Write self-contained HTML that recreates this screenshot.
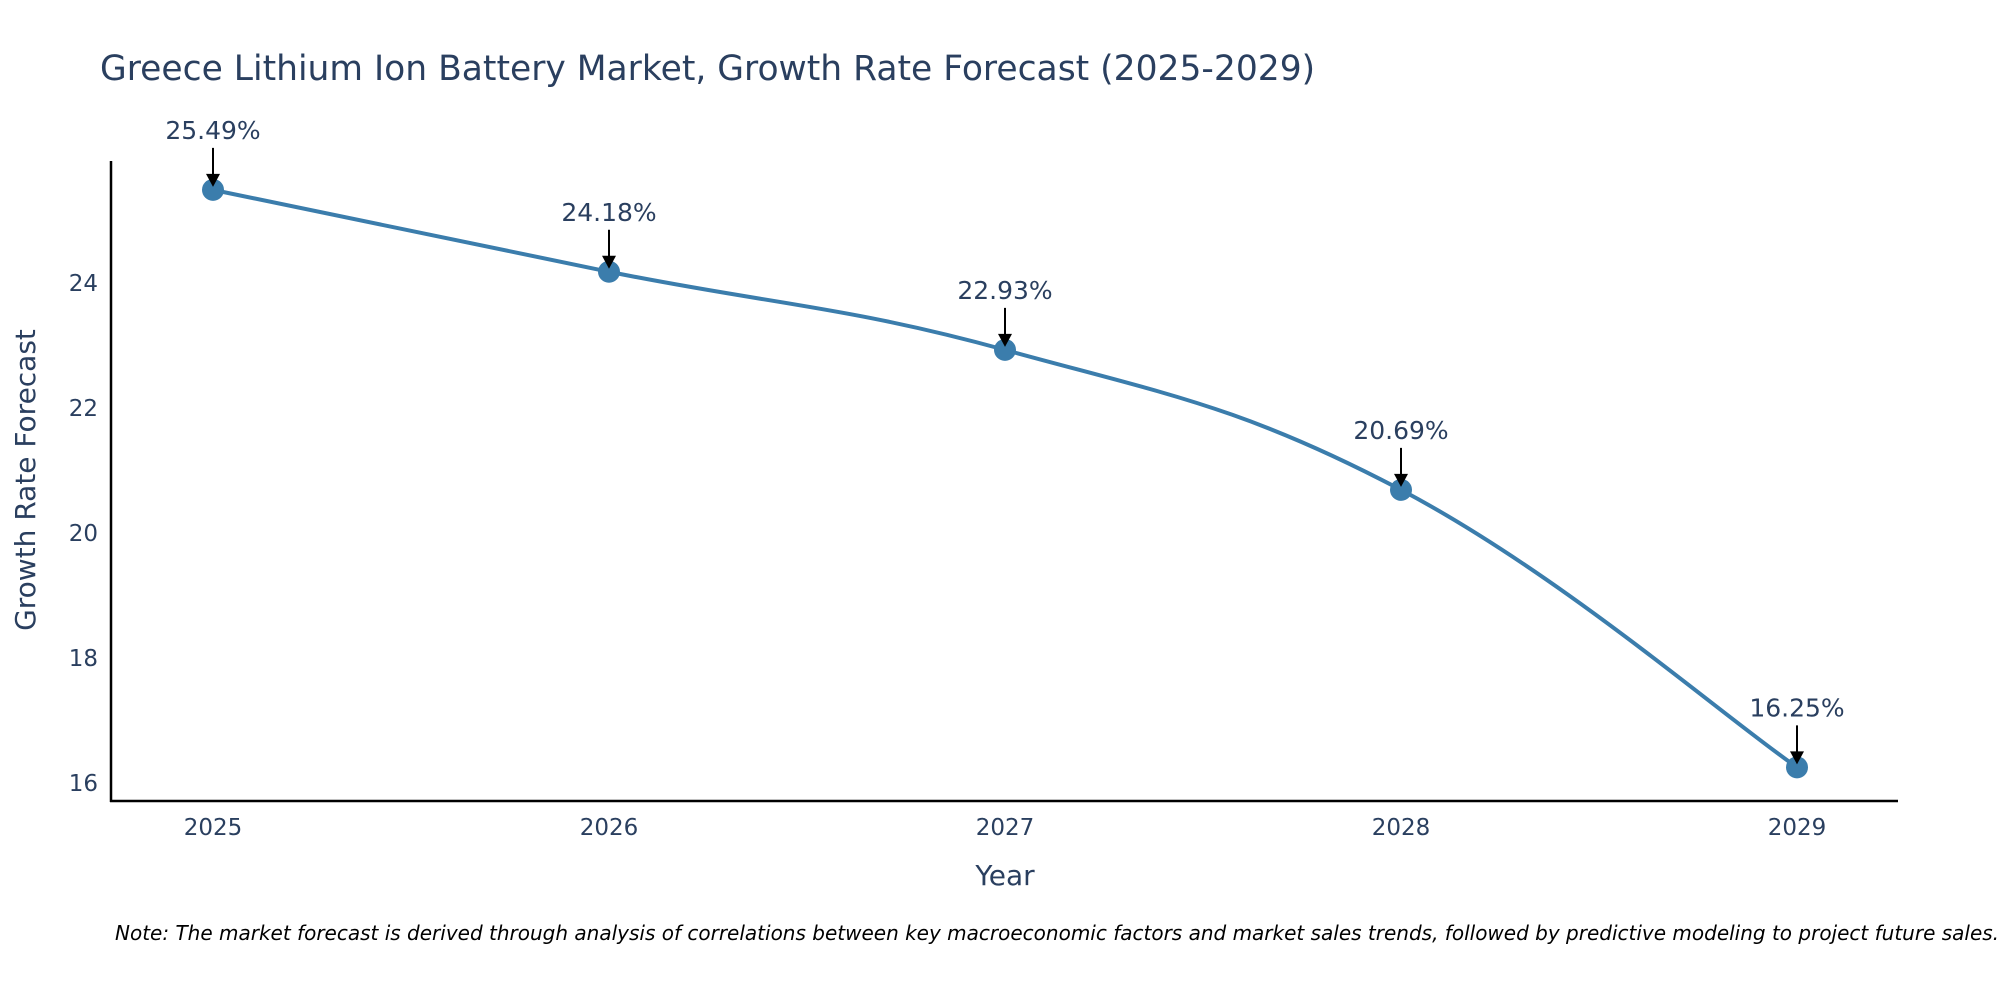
<!DOCTYPE html>
<html><head><meta charset="utf-8"><style>
html,body{margin:0;padding:0;background:#fff;}
svg{display:block;font-family:"DejaVu Sans","Liberation Sans",sans-serif;}
</style></head><body>
<svg id="chart" width="2000" height="1000" viewBox="0 0 2000 1000">
<text x="100" y="80" font-size="34.5" fill="#2a3f5f">Greece Lithium Ion Battery Market, Growth Rate Forecast (2025-2029)</text>
<g id="yticks"></g>
<g id="xticks"></g>
<line x1="111" y1="161" x2="111" y2="802" stroke="#000" stroke-width="2.5"/>
<line x1="110" y1="801" x2="1898" y2="801" stroke="#000" stroke-width="2.5"/>
<path id="series-line" fill="none" stroke="#3b7dac" stroke-width="4"/>
<g id="points"></g>
<g id="annots"></g>
<text x="1005" y="885" font-size="28" fill="#2a3f5f" text-anchor="middle">Year</text>
<text transform="translate(35,480) rotate(-90)" font-size="28" fill="#2a3f5f" text-anchor="middle">Growth Rate Forecast</text>
<text x="115" y="940" font-size="20" font-style="italic" fill="#000">Note: The market forecast is derived through analysis of correlations between key macroeconomic factors and market sales trends, followed by predictive modeling to project future sales.</text>
</svg>
<script>
const years = [2025, 2026, 2027, 2028, 2029];
const growthRates = [25.49, 24.18, 22.93, 20.69, 16.25];
const yTickValues = [16, 18, 20, 22, 24];
const pointLabels = ["25.49%", "24.18%", "22.93%", "20.69%", "16.25%"];

const NS = "http://www.w3.org/2000/svg";
function xScale(v){ return 213 + (v - 2025) * 396; }
function yScale(v){ return 783 - (v - 16) * 62.5; }
function mk(tag, attrs, parent){ const e=document.createElementNS(NS,tag); for(const k in attrs) e.setAttribute(k,attrs[k]); parent.appendChild(e); return e; }

const yt=document.getElementById('yticks');
yTickValues.forEach(v=>{
  const t=mk('text',{x:98,y:yScale(v)+8,'font-size':23,fill:'#2a3f5f','text-anchor':'end'},yt);
  t.textContent=v;
  
  
});
const xt=document.getElementById('xticks');
years.forEach(v=>{
  const t=mk('text',{x:xScale(v),y:835,'font-size':23,fill:'#2a3f5f','text-anchor':'middle'},xt);
  t.textContent=v;
  
  
});

const pts=years.map((y,i)=>[xScale(y),yScale(growthRates[i])]);
let d='M'+pts[0][0]+','+pts[0][1];
const s=0.2;
for(let i=0;i<pts.length-1;i++){
  const p0=pts[Math.max(0,i-1)],p1=pts[i],p2=pts[i+1],p3=pts[Math.min(pts.length-1,i+2)];
  const c1=[p1[0]+(p2[0]-p0[0])*s,p1[1]+(p2[1]-p0[1])*s];
  const c2=[p2[0]-(p3[0]-p1[0])*s,p2[1]-(p3[1]-p1[1])*s];
  d+=' C'+c1[0]+','+c1[1]+' '+c2[0]+','+c2[1]+' '+p2[0]+','+p2[1];
}
document.getElementById('series-line').setAttribute('d',d);

const pg=document.getElementById('points'), ag=document.getElementById('annots');
pts.forEach((p,i)=>{
  const c=mk('circle',{cx:p[0],cy:p[1],r:11,fill:'#3b7dac'},pg);
  
  
  const l=mk('line',{x1:p[0],y1:p[1]-42,x2:p[0],y2:p[1]-14,stroke:'#000','stroke-width':2},ag);
  
  
  const a=mk('polygon',{points:(p[0]-7)+','+(p[1]-16)+' '+(p[0]+7)+','+(p[1]-16)+' '+p[0]+','+(p[1]-3),fill:'#000'},ag);
  
  
  const t=mk('text',{x:p[0],y:p[1]-51,'font-size':25,fill:'#2a3f5f','text-anchor':'middle'},ag);
  t.textContent=pointLabels[i];
  
  
});
</script>
</body></html>
